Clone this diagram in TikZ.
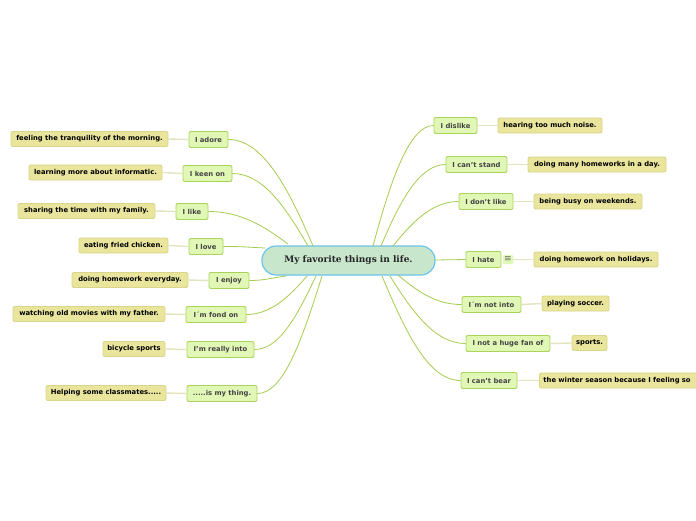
\documentclass[tikz,border=0pt]{standalone}
\usepackage{fontspec}
\setmainfont{DejaVu Sans}
\newfontfamily\cserif{DejaVu Serif}
\definecolor{vfill}{HTML}{E1F7B5}
\definecolor{vborder}{HTML}{A9D35A}
\definecolor{vtext}{HTML}{444444}
\definecolor{lfill}{HTML}{E9E59C}
\definecolor{lborder}{HTML}{D9D58A}
\definecolor{cfill}{HTML}{C8E6CC}
\definecolor{cborder}{HTML}{6CC3EC}
\definecolor{vline}{HTML}{A5CC4E}
\definecolor{lline}{HTML}{E3E3BE}
\tikzset{
  verb/.style={draw=vborder, fill=vfill, rounded corners=2pt, line width=0.9pt,
    text=vtext, font=\fontsize{6.8}{7}\selectfont\bfseries, minimum height=16pt,
    inner xsep=0pt, inner ysep=0pt},
  leaf/.style={draw=lborder, fill=lfill, rounded corners=2pt, line width=0.9pt,
    text=black, font=\fontsize{6.8}{7}\selectfont\bfseries, minimum height=15pt,
    inner xsep=0pt, inner ysep=0pt},
  centre/.style={draw=cborder, fill=cfill, rounded corners=14pt, line width=1.2pt,
    text=black!85, font=\fontsize{9}{10}\selectfont\cserif\bfseries,
    minimum width=173pt, minimum height=29pt, inner sep=0pt},
  vcon/.style={draw=vline, line width=0.8pt},
  lcon/.style={draw=lline, line width=1.4pt},
  iconbox/.style={fill=vfill, rounded corners=1pt, minimum width=10pt, minimum height=9pt,
    inner sep=0pt, text=vtext!80, font=\fontsize{9}{9}\selectfont},
}
\begin{document}
\begin{tikzpicture}[x=1pt,y=-1pt]
\useasboundingbox (0,0) rectangle (696,520);
\fill[white] (0,0) rectangle (696,520);
% centre
\node[centre] (c) at (348.5,260.5) {My favorite things in life.};
% attach points
\coordinate (a1) at (313,246);
\coordinate (a2) at (308,246);
\coordinate (a3) at (288,244);
\coordinate (a4) at (265,248);
\coordinate (a5) at (286,276);
\coordinate (a6) at (307,276);
\coordinate (a7) at (316,276);
\coordinate (a8) at (322,276);
\coordinate (b1) at (373,246);
\coordinate (b2) at (381,246);
\coordinate (b3) at (393,246);
\coordinate (b4) at (435,260);
\coordinate (b5) at (398,275);
\coordinate (b6) at (390,276);
\coordinate (b7) at (382,276);
% left verbs
\node[verb, minimum width=39pt] (v1) at (208.5,139.5) {I adore};
\node[verb, minimum width=49pt] (v2) at (207.5,173.5) {I keen on};
\node[verb, minimum width=32pt] (v3) at (192,211.5) {I like};
\node[verb, minimum width=34pt] (v4) at (206,246.5) {I love};
\node[verb, minimum width=40pt] (v5) at (229,280.5) {I enjoy};
\node[verb, minimum width=60pt] (v6) at (216,314.5) {I´m fond on};
\node[verb, minimum width=67pt] (v7) at (220.5,349.5) {I'm really into};
\node[verb, minimum width=70pt] (v8) at (222,393.5) {.....is my thing.};
% left leaves
\node[leaf, minimum width=157pt] (l1) at (89.5,139) {feeling the tranquility of the morning.};
\node[leaf, minimum width=133pt] (l2) at (95.5,172.5) {learning more about informatic.};
\node[leaf, minimum width=137pt] (l3) at (86.5,211) {sharing the time with my family.};
\node[leaf, minimum width=89pt] (l4) at (123.5,245.5) {eating fried chicken.};
\node[leaf, minimum width=116pt] (l5) at (130,280) {doing homework everyday.};
\node[leaf, minimum width=152pt] (l6) at (89,314) {watching old movies with my father.};
\node[leaf, minimum width=62pt] (l7) at (134,349) {bicycle sports};
\node[leaf, minimum width=120pt] (l8) at (106,393) {Helping some classmates.....};
% right verbs
\node[verb, minimum width=43pt] (w1) at (455.5,125.5) {I dislike};
\node[verb, minimum width=61pt] (w2) at (476.5,164.5) {I can't stand};
\node[verb, minimum width=54pt] (w3) at (486,201.5) {I don't like};
\node[verb, minimum width=35pt] (w4) at (483.5,259.5) {I hate};
\node[verb, minimum width=59pt] (w5) at (491.5,304.5) {I´m not into};
\node[verb, minimum width=84pt] (w6) at (508,343.5) {I not a huge fan of};
\node[verb, minimum width=56pt] (w7) at (489,380.5) {I can't bear};
\node[iconbox] (ic) at (508,259.5) {≡};
% right leaves
\node[leaf, minimum width=104pt] (r1) at (550,125.5) {hearing too much noise.};
\node[leaf, minimum width=138pt] (r2) at (597,164.5) {doing many homeworks in a day.};
\node[leaf, minimum width=108pt] (r3) at (588,201.5) {being busy on weekends.};
\node[leaf, minimum width=124pt] (r4) at (596,259.5) {doing homework on holidays.};
\node[leaf, minimum width=67pt] (r5) at (575.5,303.5) {playing soccer.};
\node[leaf, minimum width=35pt] (r6) at (589.5,343) {sports.};
\node[leaf, minimum width=180pt, anchor=west, align=left, text width=174pt, inner xsep=4pt] (r7) at (539,380.5) {the winter season because I feeling so};
% leaf connectors
\path[lcon] (v1.west) -- (l1.east);
\path[lcon] (v2.west) -- (l2.east);
\path[lcon] (v3.west) -- (l3.east);
\path[lcon] (v4.west) -- (l4.east);
\path[lcon] (v5.west) -- (l5.east);
\path[lcon] (v6.west) -- (l6.east);
\path[lcon] (v7.west) -- (l7.east);
\path[lcon] (v8.west) -- (l8.east);
\path[lcon] (w1.east) -- (r1.west);
\path[lcon] (w2.east) -- (r2.west);
\path[lcon] (w3.east) -- (r3.west);
\path[lcon] (ic.east) -- (r4.west);
\path[lcon] (w5.east) -- (r5.west);
\path[lcon] (w6.east) -- (r6.west);
\path[lcon] (w7.east) -- (r7.west);
% main connectors
\path[vcon] (v1.east) .. controls +(34,0) and +(-25,-59) .. (a1);
\path[vcon] (v2.east) .. controls +(30,0) and +(-23,-40) .. (a2);
\path[vcon] (v3.east) .. controls +(32,0) and +(-24,-18) .. (a3);
\path[vcon] (v4.east) .. controls +(20,0) and +(-20,-1) .. (a4);
\path[vcon] (v5.east) .. controls +(15,0) and +(-15,2) .. (a5);
\path[vcon] (v6.east) .. controls +(24,0) and +(-18,21) .. (a6);
\path[vcon] (v7.east) .. controls +(25,0) and +(-19,40) .. (a7);
\path[vcon] (v8.east) .. controls +(26,0) and +(-20,64) .. (a8);
\path[vcon] (w1.west) .. controls +(-24,0) and +(18,-67) .. (b1);
\path[vcon] (w2.west) .. controls +(-26,0) and +(19,-45) .. (b2);
\path[vcon] (w3.west) .. controls +(-26,0) and +(20,-25) .. (b3);
\path[vcon] (w4.west) -- (b4);
\path[vcon] (w5.west) .. controls +(-26,0) and +(19,16) .. (b5);
\path[vcon] (w6.west) .. controls +(-30,0) and +(23,37) .. (b6);
\path[vcon] (w7.west) .. controls +(-32,0) and +(24,57) .. (b7);
\end{tikzpicture}
\end{document}
